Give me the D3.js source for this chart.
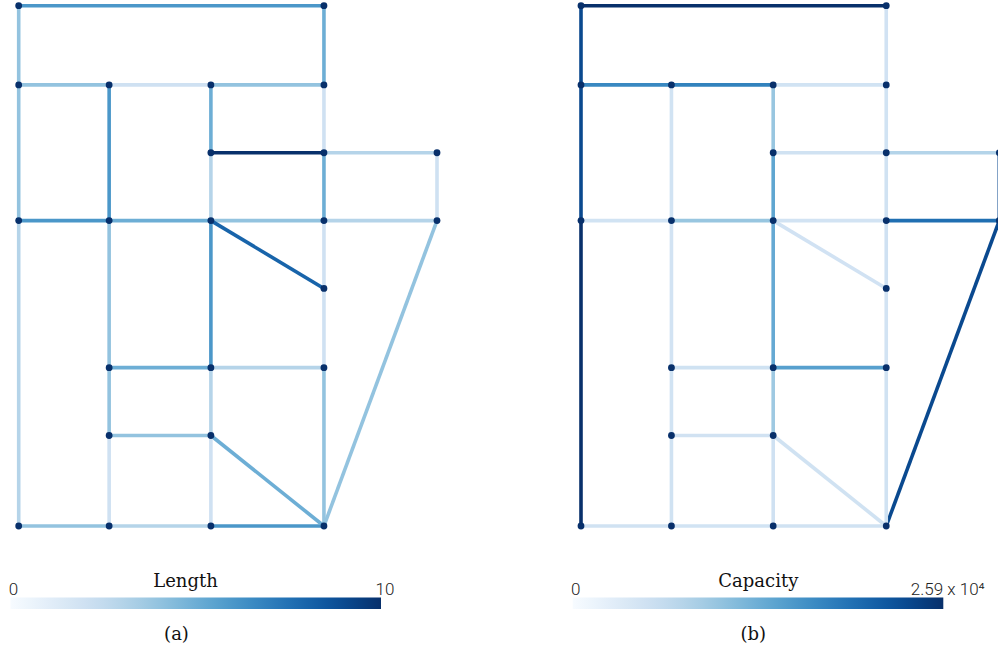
<!DOCTYPE html>
<html>
<head>
<meta charset="utf-8">
<script src="https://cdn.jsdelivr.net/npm/d3@7"></script>
<style>
  html, body { margin: 0; padding: 0; background: #fff; }
  svg { display: block; }
</style>
</head>
<body>
<svg id="chart" width="998" height="652"></svg>
<script>
// Sioux Falls network
const nodeIds = [1,2,3,4,5,6,7,8,9,10,11,12,13,14,15,16,17,18,19,20,21,22,23,24];
const nodeX = [50000,320000,50000,130000,220000,320000,420000,320000,220000,220000,130000,50000,50000,130000,220000,320000,320000,420000,320000,320000,220000,220000,130000,130000];
const nodeY = [510000,510000,440000,440000,440000,440000,380000,380000,380000,320000,320000,320000,50000,190000,190000,320000,260000,320000,190000,50000,50000,130000,130000,50000];

const linkFrom = [1,1,2,3,3,4,4,5,5,6,7,7,8,8,9,10,10,10,10,11,11,12,13,14,14,15,15,16,16,17,18,19,20,20,21,21,22,23];
const linkTo   = [2,3,6,4,12,5,11,6,9,8,8,18,9,16,10,11,15,16,17,12,14,13,24,15,23,19,22,17,18,19,20,20,21,22,22,24,23,24];
const linkLength = [6,4,5,4,4,2,6,4,5,2,3,2,10,5,3,5,6,4,8,6,4,3,4,5,4,3,3,2,3,2,4,4,6,5,2,3,4,2];
const linkCapacity = [25900.20,23403.47,4958.18,17110.52,23403.47,17782.79,4908.83,4948.00,10000,4898.59,7841.81,23403.47,5050.19,5045.82,13915.79,10000,13512.00,4854.92,4993.51,4908.83,4876.51,25900.20,5091.26,5127.53,4924.79,14564.75,9599.18,5229.91,19679.90,4823.95,23403.47,5002.61,5059.91,5075.70,5229.91,4885.36,5000,5078.51];

const panelTitles = ["Length", "Capacity"];
const panelLetters = ["(a)", "(b)"];
const maxLabels = ["10", "2.59 x 10\u2074"];
const minLabels = ["0", "0"];
const maxValues = [10, 25900.2];

const svg = d3.select("#chart");

const x = d3.scaleLinear().domain([50000, 420000]).range([18.7, 437]);
const y = d3.scaleLinear().domain([50000, 510000]).range([526, 5.7]);
const offsets = [0, 562.3];

const nodes = nodeIds.map((id, i) => ({id, x: nodeX[i], y: nodeY[i]}));
const byId = new Map(nodes.map(n => [n.id, n]));
const links = linkFrom.map((f, i) => ({s: byId.get(f), t: byId.get(linkTo[i]), vals: [linkLength[i], linkCapacity[i]]}));

// gradient
const defs = svg.append("defs");
const grad = defs.append("linearGradient").attr("id", "bluesGrad");
d3.range(0, 1.0001, 0.05).forEach(t => {
  grad.append("stop").attr("offset", (t*100) + "%").attr("stop-color", d3.interpolateBlues(t));
});

[0, 1].forEach(p => {
  const color = d3.scaleSequential(d3.interpolateBlues).domain([0, maxValues[p]]);
  const g = svg.append("g").attr("transform", `translate(${offsets[p]},0)`);
  g.selectAll("line").data(links).join("line")
    .attr("x1", d => x(d.s.x)).attr("y1", d => y(d.s.y))
    .attr("x2", d => x(d.t.x)).attr("y2", d => y(d.t.y))
    .attr("stroke", d => color(d.vals[p]))
    .attr("stroke-width", 3.6)
    .attr("stroke-linecap", "butt");
  g.selectAll("circle").data(nodes).join("circle")
    .attr("cx", d => x(d.x)).attr("cy", d => y(d.y))
    .attr("r", 3.4).attr("fill", "#08306b");

  // colorbar
  const cb = svg.append("g").attr("transform", `translate(${offsets[p]},0)`);
  const barX0 = 10.5, barX1 = 381;
  cb.append("rect").attr("x", barX0).attr("y", 597.5).attr("width", barX1 - barX0).attr("height", 11.5)
    .attr("fill", "url(#bluesGrad)");
  cb.append("text").attr("x", barX0 + 3).attr("y", 595).attr("text-anchor", "middle")
    .attr("font-family", "Roboto, sans-serif").attr("font-weight", 300).attr("font-size", 17)
    .attr("fill", "#222").text(minLabels[p]);
  cb.append("text").attr("x", p === 0 ? 385 : 385.5).attr("y", 595).attr("text-anchor", "middle")
    .attr("font-family", "Roboto, sans-serif").attr("font-weight", 300).attr("font-size", 17)
    .attr("fill", "#222").text(maxLabels[p]);
  cb.append("text").attr("x", p === 0 ? 185.5 : 196).attr("y", 587).attr("text-anchor", "middle")
    .attr("font-family", "'DejaVu Serif', serif").attr("font-size", 18)
    .attr("fill", "#111").text(panelTitles[p]);
  cb.append("text").attr("x", p === 0 ? 176.5 : 191).attr("y", 640).attr("text-anchor", "middle")
    .attr("font-family", "'DejaVu Serif', serif").attr("font-size", 18)
    .attr("fill", "#111").text(panelLetters[p]);
});
</script>
</body>
</html>
